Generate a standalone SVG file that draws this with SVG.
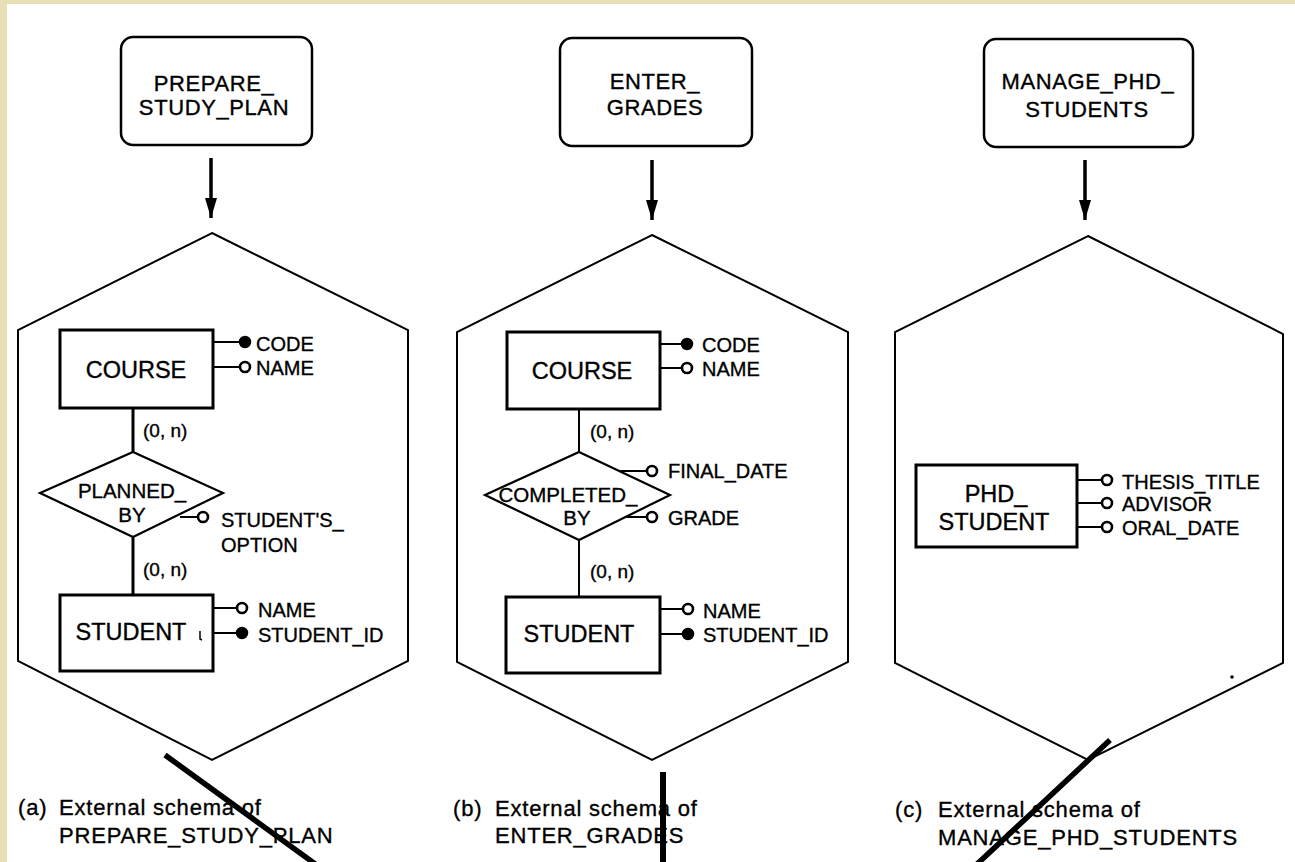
<svg xmlns="http://www.w3.org/2000/svg" width="1295" height="862" viewBox="0 0 1295 862">
  <style>
    text { font-family: "Liberation Sans", Arial, sans-serif; fill: #000; stroke: #000; stroke-width: 0.35px; }
    .proc { fill: #fff; stroke: #000; stroke-width: 2.5; }
    .ptxt { font-size: 22px; letter-spacing: 0.6px; text-anchor: middle; }
    .hex { fill: none; stroke: #000; stroke-width: 2; }
    .ent { fill: #fff; stroke: #000; stroke-width: 3; }
    .etxt { font-size: 23.5px; text-anchor: middle; }
    .rel { fill: #fff; stroke: #000; stroke-width: 2.2; }
    .rtxt { font-size: 20.5px; text-anchor: middle; }
    .att { font-size: 20px; }
    .card { font-size: 19px; }
    .cap { font-size: 22px; letter-spacing: 0.8px; }
    .ln { stroke: #000; stroke-width: 2; fill: none; }
    .lnb { stroke: #000; stroke-width: 3; fill: none; }
    .ao { fill: #fff; stroke: #000; stroke-width: 2.6; }
    .af { fill: #000; stroke: #000; stroke-width: 1.5; }
    .arrow { stroke: #000; stroke-width: 3.5; fill: none; }
    .slash { stroke: #000; stroke-width: 5.5; fill: none; }
  </style>
  <defs>
    <marker id="head" viewBox="0 0 20 12" refX="20" refY="6" markerWidth="20" markerHeight="12" markerUnits="userSpaceOnUse" orient="auto">
      <path d="M0,0 L20,6 L0,12 z" fill="#000"/>
    </marker>
  </defs>

  <!-- page background with tinted margin -->
  <rect x="0" y="0" width="1295" height="862" fill="#fff"/>
  <rect x="0" y="0" width="1295" height="4" fill="#e8dfb5"/>
  <rect x="0" y="0" width="7" height="862" fill="#e8dfb5"/>

  <!-- external schema frames -->
  <g id="frame-a"><polygon class="hex" points="212,233 408,330 408,661 212,760 18,661 18,330"/></g>
  <g id="frame-b"><polygon class="hex" points="652,235 848,332 848,662 652,760 457,662 457,332"/></g>
  <g id="frame-c"><polygon class="hex" points="1088,236 1283,334 1283,663 1088,760 895,663 895,332"/></g>

  <!-- connectors -->
  <g id="connectors">
    <line class="arrow" x1="211" y1="158" x2="211" y2="218" marker-end="url(#head)"/>
    <line class="arrow" x1="652" y1="160" x2="652" y2="220" marker-end="url(#head)"/>
    <line class="arrow" x1="1085" y1="160" x2="1085" y2="220" marker-end="url(#head)"/>
    <line class="lnb" x1="133" y1="408" x2="133" y2="452"/>
    <line class="lnb" x1="133" y1="537" x2="133" y2="595"/>
    <line class="ln" x1="579" y1="409" x2="579" y2="452"/>
    <line class="ln" x1="579" y1="540" x2="579" y2="597"/>
    <text class="card" x="143" y="437">(0, n)</text>
    <text class="card" x="143" y="576">(0, n)</text>
    <text class="card" x="590" y="438">(0, n)</text>
    <text class="card" x="590" y="578">(0, n)</text>
  </g>

  <!-- process boxes -->
  <g id="proc-prepare">
    <rect class="proc" x="121" y="37" width="191" height="108" rx="12"/>
    <text class="ptxt" x="214" y="91">PREPARE_</text>
    <text class="ptxt" x="214" y="115">STUDY_PLAN</text>
  </g>
  <g id="proc-enter">
    <rect class="proc" x="560" y="38" width="192" height="108" rx="12"/>
    <text class="ptxt" x="655" y="89">ENTER_</text>
    <text class="ptxt" x="655" y="115">GRADES</text>
  </g>
  <g id="proc-manage">
    <rect class="proc" x="984" y="39" width="209" height="108" rx="12"/>
    <text class="ptxt" x="1088" y="89">MANAGE_PHD_</text>
    <text class="ptxt" x="1087" y="117">STUDENTS</text>
  </g>

  <!-- schema (a) -->
  <g id="a-course">
    <line class="ln" x1="213" y1="342" x2="240" y2="342"/>
    <circle class="af" cx="245" cy="342" r="5.5"/>
    <text class="att" x="256" y="351">CODE</text>
    <line class="ln" x1="213" y1="367" x2="240" y2="367"/>
    <circle class="ao" cx="245" cy="367" r="5"/>
    <text class="att" x="256" y="375">NAME</text>
    <rect class="ent" x="60" y="330" width="153" height="78"/>
    <text class="etxt" x="136" y="378">COURSE</text>
  </g>
  <g id="a-planned-by">
    <line class="ln" x1="180" y1="517" x2="198" y2="517"/>
    <circle class="ao" cx="203" cy="517" r="5"/>
    <text class="att" x="221" y="527">STUDENT'S_</text>
    <text class="att" x="221" y="552">OPTION</text>
    <polygon class="rel" points="40,493 133,452 223,493 133,537"/>
    <text class="rtxt" x="132" y="498">PLANNED_</text>
    <text class="rtxt" x="132" y="522">BY</text>
  </g>
  <g id="a-student">
    <line class="ln" x1="213" y1="608" x2="237" y2="608"/>
    <circle class="ao" cx="242" cy="608" r="5"/>
    <text class="att" x="258" y="617">NAME</text>
    <line class="ln" x1="213" y1="633" x2="237" y2="633"/>
    <circle class="af" cx="242" cy="633" r="5.5"/>
    <text class="att" x="258" y="642">STUDENT_ID</text>
    <rect class="ent" x="60" y="595" width="153" height="76"/>
    <text class="etxt" x="131" y="640">STUDENT</text>
    <path d="M200,631 L200,639 L202,640" fill="none" stroke="#000" stroke-width="1.5"/>
  </g>
  <g id="a-caption">
    <text class="cap" x="18" y="815">(a)</text>
    <text class="cap" x="59" y="815">External schema of</text>
    <text class="cap" x="59" y="843">PREPARE_STUDY_PLAN</text>
  </g>

  <!-- schema (b) -->
  <g id="b-course">
    <line class="ln" x1="660" y1="344" x2="682" y2="344"/>
    <circle class="af" cx="687" cy="344" r="5.5"/>
    <text class="att" x="702" y="352">CODE</text>
    <line class="ln" x1="660" y1="368" x2="682" y2="368"/>
    <circle class="ao" cx="687" cy="368" r="5"/>
    <text class="att" x="702" y="376">NAME</text>
    <rect class="ent" x="507" y="332" width="153" height="77"/>
    <text class="etxt" x="582" y="379">COURSE</text>
  </g>
  <g id="b-completed-by">
    <line class="ln" x1="620" y1="471" x2="647" y2="471"/>
    <circle class="ao" cx="652" cy="471" r="5"/>
    <text class="att" x="668" y="478">FINAL_DATE</text>
    <line class="ln" x1="622" y1="517" x2="647" y2="517"/>
    <circle class="ao" cx="652" cy="517" r="5"/>
    <text class="att" x="668" y="525">GRADE</text>
    <polygon class="rel" points="485,495 579,452 670,495 579,540"/>
    <text class="rtxt" x="568" y="502">COMPLETED_</text>
    <text class="rtxt" x="577" y="525">BY</text>
  </g>
  <g id="b-student">
    <line class="ln" x1="660" y1="609" x2="683" y2="609"/>
    <circle class="ao" cx="688" cy="609" r="5"/>
    <text class="att" x="703" y="618">NAME</text>
    <line class="ln" x1="660" y1="634" x2="683" y2="634"/>
    <circle class="af" cx="688" cy="634" r="5.5"/>
    <text class="att" x="703" y="642">STUDENT_ID</text>
    <rect class="ent" x="506" y="597" width="154" height="76"/>
    <text class="etxt" x="579" y="642">STUDENT</text>
  </g>
  <g id="b-caption">
    <text class="cap" x="453" y="816">(b)</text>
    <text class="cap" x="495" y="816">External schema of</text>
    <text class="cap" x="495" y="843">ENTER_GRADES</text>
  </g>

  <!-- schema (c) -->
  <g id="c-phd-student">
    <line class="ln" x1="1077" y1="480" x2="1102" y2="480"/>
    <circle class="ao" cx="1107" cy="480" r="5"/>
    <text class="att" x="1122" y="489">THESIS_TITLE</text>
    <line class="ln" x1="1077" y1="503" x2="1102" y2="503"/>
    <circle class="ao" cx="1107" cy="503" r="5"/>
    <text class="att" x="1122" y="511">ADVISOR</text>
    <line class="ln" x1="1077" y1="527" x2="1102" y2="527"/>
    <circle class="ao" cx="1107" cy="527" r="5"/>
    <text class="att" x="1122" y="535">ORAL_DATE</text>
    <rect class="ent" x="916" y="465" width="161" height="82"/>
    <text class="etxt" x="996" y="502">PHD_</text>
    <text class="etxt" x="994" y="530">STUDENT</text>
  </g>
  <circle cx="1232" cy="677" r="1.8" fill="#000"/>
  <g id="c-caption">
    <text class="cap" x="895" y="817">(c)</text>
    <text class="cap" x="938" y="817">External schema of</text>
    <text class="cap" x="938" y="845">MANAGE_PHD_STUDENTS</text>
  </g>

  <!-- heavy strokes across the lower part -->
  <line class="slash" x1="165" y1="755" x2="318" y2="866"/>
  <line class="slash" x1="663" y1="772" x2="663" y2="866" style="stroke-width:6"/>
  <line class="slash" x1="1110" y1="740" x2="975" y2="866"/>
</svg>
